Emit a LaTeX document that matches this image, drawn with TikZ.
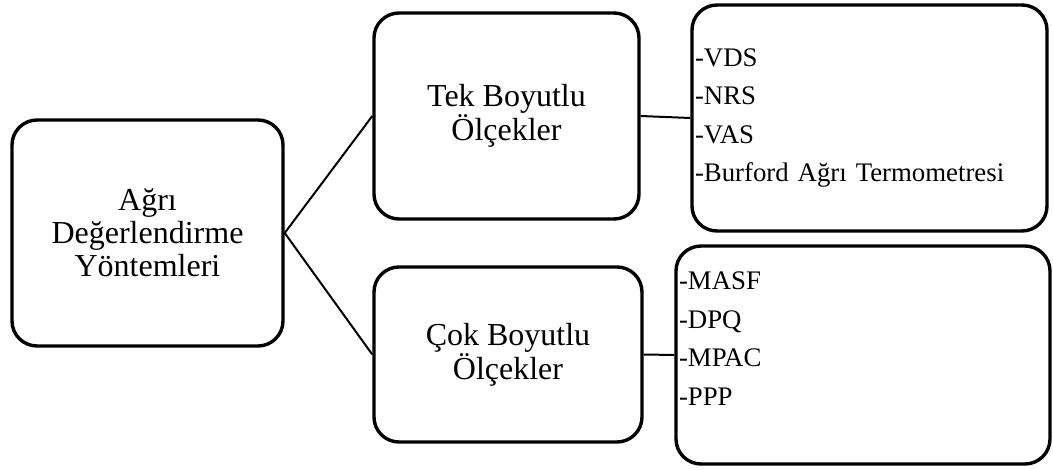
\documentclass[tikz,border=0pt]{standalone}
\usepackage{fontspec}
\setmainfont{Liberation Serif}

\begin{document}
\begin{tikzpicture}[x=1pt, y=-1pt,
  main/.style = {draw, line width=3.4pt, rounded corners=25pt, align=center, inner sep=0pt},
  list/.style = {draw, line width=3.4pt, rounded corners=25pt, inner xsep=3pt, font=\fontsize{26.8}{38.5}\selectfont}]
\useasboundingbox (0,0) rectangle (1053,470);
\node[main, minimum width=271pt, minimum height=226pt, font=\fontsize{32}{33}\selectfont] (1) at (147.5,233) {Ağrı\\Değerlendirme\\Yöntemleri};
\node[main, minimum width=265pt, minimum height=206pt, font=\fontsize{32}{32}\selectfont] (2) at (506.5,116) {Tek Boyutlu\\Ölçekler};
\node[main, minimum width=268pt, minimum height=175pt, font=\fontsize{32}{32}\selectfont] (3) at (508,354.5) {Çok Boyutlu\\Ölçekler};
\node[list, minimum width=355pt, minimum height=226pt, text width=349pt, align=left] (4) at (869.5,118) {-VDS\\-NRS\\-VAS\\-Burford Ağrı Termometresi};
% kept to the top of the box
\node[list, minimum width=374pt, minimum height=218pt] (5) at (863,355)
  {\parbox[c][166pt][t]{368pt}{\raggedright -MASF\\-DPQ\\-MPAC\\-PPP}};

\draw[line width=2pt] (1.east) -- (2.west);
\draw[line width=2pt] (1.east) -- (3.west);
\draw[line width=2pt] (2.east) -- (4.west);
\draw[line width=2pt] (3.east) -- (5.west);
\end{tikzpicture}
\end{document}
